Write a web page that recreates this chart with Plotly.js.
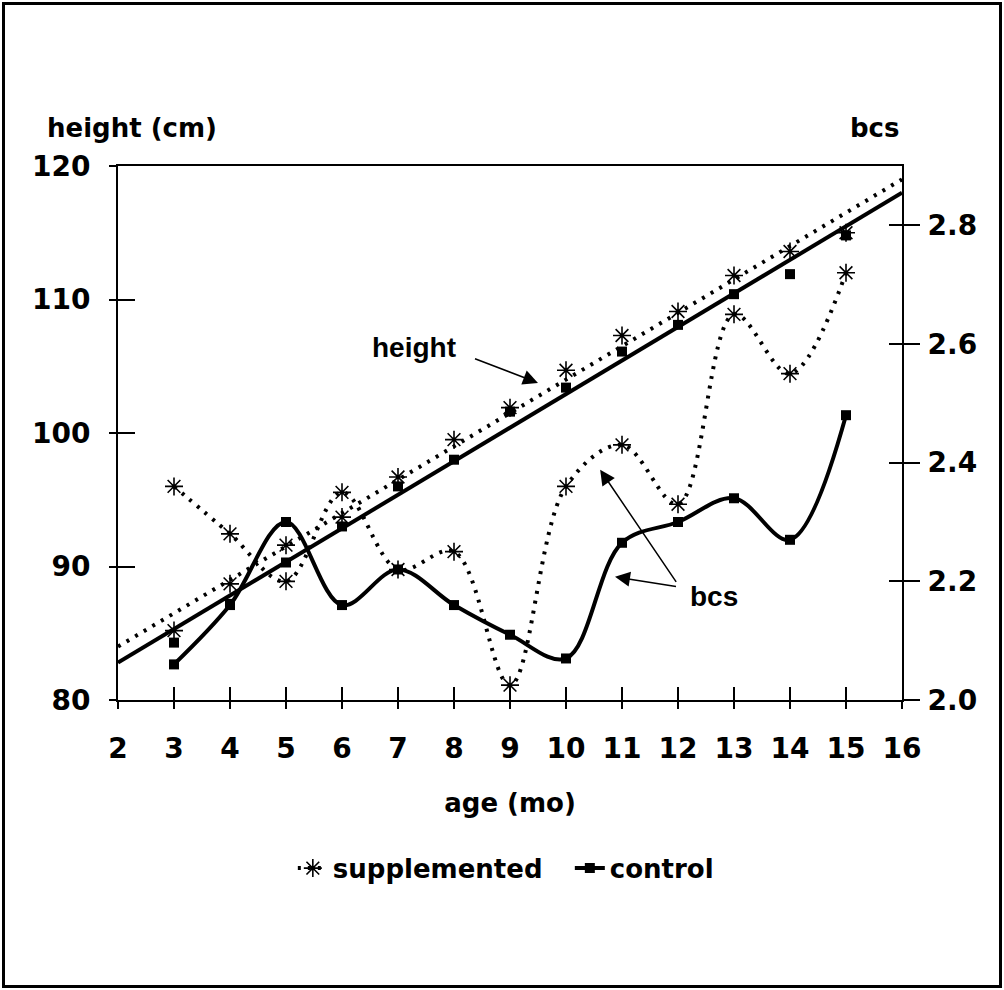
<!DOCTYPE html>
<html>
<head>
<meta charset="utf-8">
<script src="https://cdn.plot.ly/plotly-3.0.1.min.js"></script>
<style>
  html, body { margin: 0; padding: 0; background: #fff; }
  #wrap { position: relative; width: 1004px; height: 990px; }
  #chart { position: absolute; left: 0; top: 0; width: 1004px; height: 990px; }
  #frame { position: absolute; left: 2px; top: 2px; width: 1000px; height: 986px;
           box-sizing: border-box; border: 3px solid #000; pointer-events: none; }
</style>
</head>
<body>
<div id="wrap"><div id="chart"></div><div id="frame"></div></div>
<script>
// ---- data ----
const ages = [3, 4, 5, 6, 7, 8, 9, 10, 11, 12, 13, 14, 15];
const suppHeight = [85.2, 88.7, 91.6, 93.7, 96.7, 99.5, 101.9, 104.7, 107.3, 109.1, 111.8, 113.6, 115.0];
const ctrlHeight = [84.3, 87.2, 90.3, 93.0, 96.0, 98.0, 101.6, 103.4, 106.1, 108.1, 110.4, 111.9, 114.8];
const suppBcs = [2.36, 2.28, 2.20, 2.35, 2.22, 2.25, 2.025, 2.36, 2.43, 2.33, 2.65, 2.55, 2.72];
const ctrlBcs = [2.06, 2.16, 2.30, 2.16, 2.22, 2.16, 2.11, 2.07, 2.265, 2.30, 2.34, 2.27, 2.48];
// fitted height lines (end points)
const fitAge = [2, 16];
const suppFit = [84.0, 119.0];
const ctrlFit = [82.8, 118.0];
// tick labels
const xTicks = [2, 3, 4, 5, 6, 7, 8, 9, 10, 11, 12, 13, 14, 15, 16];
const heightTicks = [80, 90, 100, 110, 120];
const bcsTicks = [2.0, 2.2, 2.4, 2.6, 2.8];
const bcsTickText = ['2.0', '2.2', '2.4', '2.6', '2.8'];

const FONT = 'DejaVu Sans, Liberation Sans, Arial, sans-serif';
const NOTE_FONT = 'Liberation Sans, Arial, sans-serif';
const dotDash = '3px,7px';

const traces = [
  { x: ages, y: suppBcs, yaxis: 'y2', name: 'supplemented', mode: 'lines+markers',
    line: { shape: 'spline', smoothing: 1, dash: dotDash, width: 4, color: '#000' },
    marker: { symbol: 'asterisk-open', size: 15, color: '#000', line: { width: 1.6, color: '#000' } },
    hoverinfo: 'skip' },
  { x: ages, y: ctrlBcs, yaxis: 'y2', name: 'control', mode: 'lines+markers',
    line: { shape: 'spline', smoothing: 1, width: 4, color: '#000' },
    marker: { symbol: 'square', size: 10, color: '#000' },
    hoverinfo: 'skip' },
  { x: fitAge, y: suppFit, mode: 'lines', showlegend: false,
    line: { dash: dotDash, width: 4, color: '#000' }, hoverinfo: 'skip' },
  { x: fitAge, y: ctrlFit, mode: 'lines', showlegend: false,
    line: { width: 4, color: '#000' }, hoverinfo: 'skip' },
  { x: ages, y: suppHeight, mode: 'markers', showlegend: false,
    marker: { symbol: 'asterisk-open', size: 15, color: '#000', line: { width: 1.6, color: '#000' } },
    hoverinfo: 'skip' },
  { x: ages, y: ctrlHeight, mode: 'markers', showlegend: false,
    marker: { symbol: 'square', size: 10, color: '#000' }, hoverinfo: 'skip' },
  // carriers for the outer halves of the crossing ticks
  { x: [null], y: [null], xaxis: 'x3', yaxis: 'y4', showlegend: false, hoverinfo: 'skip' },
  { x: [null], y: [null], xaxis: 'x', yaxis: 'y5', showlegend: false, hoverinfo: 'skip' }
];

const tickFont = { family: FONT, size: 28, color: '#000', weight: 'bold' };
const titleFont = { family: FONT, size: 26, color: '#000', weight: 'bold' };
const noteFont = { family: NOTE_FONT, size: 28, color: '#000', weight: 'bold' };

const layout = {
  width: 1004, height: 990,
  margin: { l: 118, r: 102, t: 166, b: 290 },
  paper_bgcolor: '#fff', plot_bgcolor: '#fff',
  showlegend: true,
  legend: { orientation: 'h', x: 0.223, xanchor: 'left', y: -0.315, yanchor: 'middle',
            font: titleFont, itemwidth: 30, tracegroupgap: 0, bgcolor: 'rgba(0,0,0,0)',
            entrywidth: 232, entrywidthmode: 'pixels' },
  xaxis: { range: [2, 16], tickvals: xTicks, ticks: 'inside', ticklen: 13, tickwidth: 2, tickcolor: '#000',
           showline: true, linewidth: 2, linecolor: '#000', mirror: true, showgrid: false, zeroline: false,
           tickfont: tickFont, ticklabelstandoff: 22,
           title: { text: 'age (mo)', font: titleFont, standoff: 30 } },
  xaxis3: { range: [2, 16], tickvals: xTicks, overlaying: 'x', anchor: 'y', side: 'bottom',
            ticks: 'outside', ticklen: 8, tickwidth: 2, tickcolor: '#000',
            showticklabels: false, showline: false, showgrid: false, zeroline: false },
  yaxis: { range: [80, 120], tickvals: heightTicks, ticks: 'inside', ticklen: 17, tickwidth: 2, tickcolor: '#000',
           showline: true, linewidth: 2, linecolor: '#000', mirror: false, showgrid: false, zeroline: false,
           tickfont: tickFont, ticklabelstandoff: 20 },
  yaxis4: { range: [80, 120], tickvals: heightTicks, overlaying: 'y', side: 'left', anchor: 'x',
            ticks: 'outside', ticklen: 8, tickwidth: 2, tickcolor: '#000',
            showticklabels: false, showline: false, showgrid: false, zeroline: false },
  yaxis2: { range: [2.0, 2.9], tickvals: bcsTicks, ticktext: bcsTickText, overlaying: 'y', side: 'right', anchor: 'x',
            ticks: 'inside', ticklen: 13, tickwidth: 2, tickcolor: '#000',
            showline: true, linewidth: 2, linecolor: '#000', showgrid: false, zeroline: false,
            tickfont: tickFont, ticklabelstandoff: 18 },
  yaxis5: { range: [2.0, 2.9], tickvals: bcsTicks, overlaying: 'y', side: 'right', anchor: 'x',
            ticks: 'outside', ticklen: 17, tickwidth: 2, tickcolor: '#000',
            showticklabels: false, showline: false, showgrid: false, zeroline: false },
  annotations: [
    { xref: 'paper', yref: 'paper', x: -0.093, y: 1.071, xanchor: 'left', yanchor: 'middle', showarrow: false,
      text: 'height (cm)', font: titleFont },
    { xref: 'paper', yref: 'paper', x: 1.0, y: 1.071, xanchor: 'right', yanchor: 'middle', showarrow: false,
      text: 'bcs', font: titleFont },
    { xref: 'x', yref: 'y', x: 7.29, y: 106.4, showarrow: false, text: 'height', font: noteFont },
    { xref: 'x', yref: 'y', x: 9.5, y: 103.75, ax: -65, ay: -25, text: ' ', font: { size: 2 },
      showarrow: true, arrowhead: 2, arrowsize: 2, arrowwidth: 1.5, arrowcolor: '#000' },
    { xref: 'x', yref: 'y2', x: 12.64, y: 2.174, showarrow: false, text: 'bcs', font: noteFont },
    { xref: 'x', yref: 'y2', x: 10.875, y: 2.2076, ax: 63, ay: 10, text: ' ', font: { size: 2 },
      showarrow: true, arrowhead: 2, arrowsize: 2, arrowwidth: 1.5, arrowcolor: '#000' },
    { xref: 'x', yref: 'y2', x: 10.61, y: 2.388, ax: 78, ay: 115, text: ' ', font: { size: 2 },
      showarrow: true, arrowhead: 2, arrowsize: 2, arrowwidth: 1.5, arrowcolor: '#000' }
  ]
};

Plotly.newPlot('chart', traces, layout, { displayModeBar: false, staticPlot: true });
</script>
</body>
</html>
